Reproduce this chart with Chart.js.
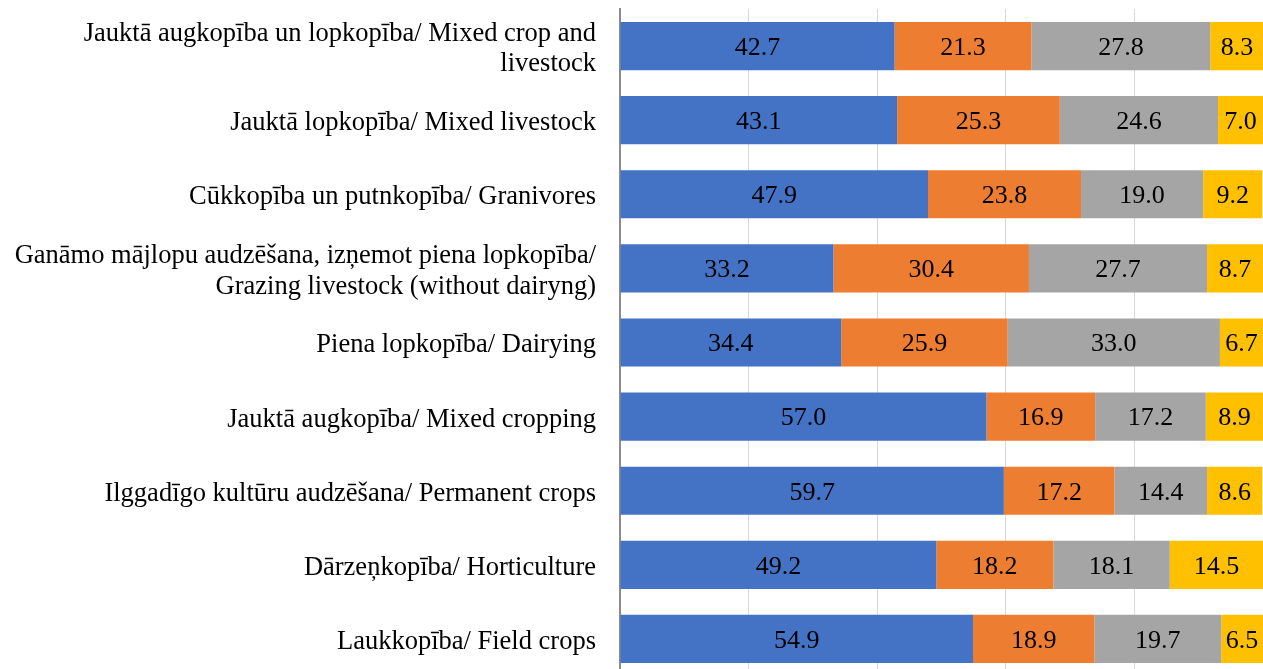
<!DOCTYPE html>
<html>
<head>
<meta charset="utf-8">
<script src="https://cdn.jsdelivr.net/npm/chart.js@4/dist/chart.umd.min.js"></script>
<style>
  html, body { margin: 0; padding: 0; background: #fff; overflow: hidden; }
  #wrap { width: 1263px; height: 676px; position: relative; }
</style>
</head>
<body>
<div id="wrap"><canvas id="chart"></canvas></div>
<script>
// kategorijas (no augšas uz leju)
const categories = [
  ['Jauktā augkopība un lopkopība/ Mixed crop and', 'livestock'],
  'Jauktā lopkopība/ Mixed livestock',
  'Cūkkopība un putnkopība/ Granivores',
  ['Ganāmo mājlopu audzēšana, izņemot piena lopkopība/', 'Grazing livestock (without dairyng)'],
  'Piena lopkopība/ Dairying',
  'Jauktā augkopība/ Mixed cropping',
  'Ilggadīgo kultūru audzēšana/ Permanent crops',
  'Dārzeņkopība/ Horticulture',
  'Laukkopība/ Field crops'
];

const seriesBlue   = [42.7, 43.1, 47.9, 33.2, 34.4, 57.0, 59.7, 49.2, 54.9];
const seriesOrange = [21.3, 25.3, 23.8, 30.4, 25.9, 16.9, 17.2, 18.2, 18.9];
const seriesGray   = [27.8, 24.6, 19.0, 27.7, 33.0, 17.2, 14.4, 18.1, 19.7];
const seriesGold   = [8.3, 7.0, 9.2, 8.7, 6.7, 8.9, 8.6, 14.5, 6.5];

const xTicks = [0, 20, 40, 60, 80, 100];

const serif = '"Liberation Serif", "Times New Roman", serif';

// vērtības uz stabiņiem
const barLabels = {
  id: 'barLabels',
  afterDatasetsDraw(chart) {
    const ctx = chart.ctx;
    ctx.save();
    ctx.font = '26px ' + serif;
    ctx.fillStyle = '#000';
    ctx.textAlign = 'center';
    ctx.textBaseline = 'middle';
    chart.data.datasets.forEach((ds, i) => {
      chart.getDatasetMeta(i).data.forEach((bar, j) => {
        const cx = (bar.x + bar.base) / 2;
        ctx.fillText(ds.data[j].toFixed(1), cx, bar.y + 2);
      });
    });
    ctx.restore();
  }
};

const ctx = document.getElementById('chart').getContext('2d');
const chart = new Chart(ctx, {
  type: 'bar',
  data: {
    labels: categories,
    datasets: [
      { data: seriesBlue, backgroundColor: '#4472C4' },
      { data: seriesOrange, backgroundColor: '#ED7D31' },
      { data: seriesGray, backgroundColor: '#A5A5A5' },
      { data: seriesGold, backgroundColor: '#FFC000' }
    ]
  },
  options: {
    indexAxis: 'y',
    responsive: true,
    maintainAspectRatio: false,
    animation: false,
    datasets: { bar: { categoryPercentage: 1, barPercentage: 0.65 } },
    layout: { padding: { top: 9, right: 0, bottom: 0, left: 0 } },
    plugins: { legend: { display: false }, tooltip: { enabled: false } },
    scales: {
      x: {
        stacked: true,
        min: 0,
        max: 100,
        afterBuildTicks: (axis) => { axis.ticks = xTicks.map(v => ({ value: v })); },
        afterFit: (axis) => { axis.height = 0; axis.paddingLeft = 0; axis.paddingRight = 0; },
        ticks: { display: false },
        grid: { color: '#d9d9d9', lineWidth: 1, drawTicks: false },
        border: { display: false }
      },
      y: {
        stacked: true,
        afterFit: (axis) => { axis.width = 620; axis.paddingTop = 0; axis.paddingBottom = 0; },
        ticks: {
          color: '#000',
          padding: 24,
          labelOffset: 3,
          font: { family: serif, size: 26.5, lineHeight: 1.15 }
        },
        grid: { display: true, color: 'rgba(0,0,0,0)', drawTicks: false },
        border: { display: true, color: '#8c8c8c', width: 2 }
      }
    }
  },
  plugins: [barLabels]
});
</script>
</body>
</html>
